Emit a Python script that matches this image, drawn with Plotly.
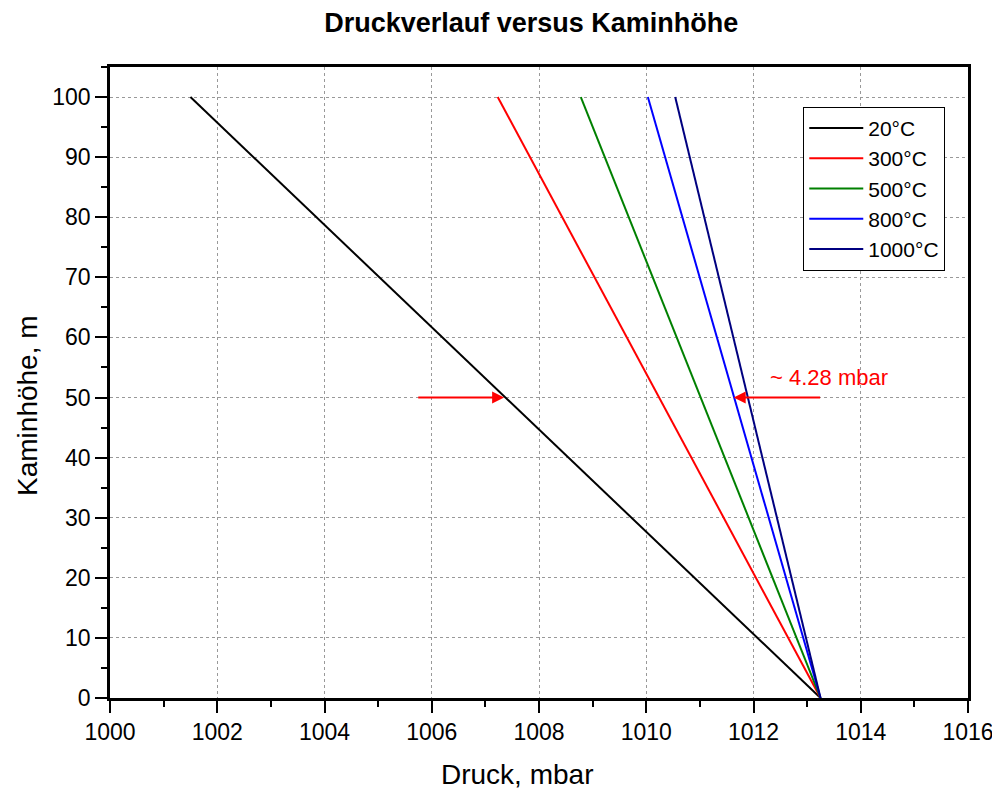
import plotly.graph_objects as go

# Data
heights = [0, 100]  # m
series_names = ["20°C", "300°C", "500°C", "800°C", "1000°C"]
p_bottom = 1013.25  # mbar at 0 m
p_top = [1001.5, 1007.23, 1008.78, 1010.03, 1010.54]  # mbar at 100 m
colors = ["#000000", "#ff0000", "#008000", "#0000ff", "#000080"]

# annotation arrows at 50 m
arrow_y = 50
left_arrow = (1005.72, 1007.35)   # tail, tip
right_arrow = (1013.27, 1011.63)  # tail, tip
label_text = "~ 4.28 mbar"
label_pos = (1013.4, 53.4)

x_title = "Druck, mbar"
y_title = "Kaminhöhe, m"
chart_title = "Druckverlauf versus Kaminhöhe"

fig = go.Figure()
for name, pt, c in zip(series_names, p_top, colors):
    fig.add_trace(go.Scatter(
        x=[p_bottom, pt], y=heights, mode="lines", name=name,
        line=dict(color=c, width=2)))

for tail, tip in [left_arrow, right_arrow]:
    fig.add_annotation(x=tip, y=arrow_y, ax=tail, ay=arrow_y,
                       xref="x", yref="y", axref="x", ayref="y",
                       showarrow=True, arrowhead=2, arrowsize=1.2,
                       arrowwidth=2, arrowcolor="#ff0000", text="")
fig.add_annotation(x=label_pos[0], y=label_pos[1], text=label_text,
                   showarrow=False, xref="x", yref="y",
                   font=dict(color="#ff0000", size=22))

# axis titles as annotations for exact placement
fig.add_annotation(text=x_title, xref="paper", yref="paper",
                   x=0.474, y=-0.122, xanchor="center", yanchor="middle",
                   showarrow=False, font=dict(size=28, color="black"))
fig.add_annotation(text=y_title, xref="paper", yref="paper", textangle=-90,
                   x=-0.097, y=0.464, xanchor="center", yanchor="middle",
                   showarrow=False, font=dict(size=28, color="black"))

axis_common = dict(
    showline=True, linewidth=2.5, linecolor="black", mirror=True,
    ticks="outside", ticklen=12, tickwidth=2, tickcolor="black",
    showgrid=True, gridcolor="#999999", griddash="dot", gridwidth=1,
    zeroline=False, tickfont=dict(size=23, color="black"),
    automargin=False,
)
minor_common = dict(ticklen=6, tickwidth=2, tickcolor="black", ticks="outside", showgrid=False)
fig.update_xaxes(range=[1000, 1016], dtick=2, tick0=1000,
                 minor=dict(dtick=1, **minor_common), **axis_common)
fig.update_yaxes(range=[0, 105], dtick=10, tick0=0,
                 minor=dict(dtick=5, **minor_common), **axis_common)

fig.update_layout(
    width=992, height=783,
    margin=dict(l=102, r=32, t=59, b=93),
    paper_bgcolor="white", plot_bgcolor="white",
    font=dict(family="Liberation Sans, Arial, sans-serif", color="black"),
    title=dict(text="<b>" + chart_title + "</b>", x=0.491, xanchor="center",
               xref="paper",
               y=0.982, yanchor="middle", font=dict(size=27, color="black")),
    legend=dict(x=0.808, y=0.937, xanchor="left", yanchor="top",
                bordercolor="black", borderwidth=1, bgcolor="white",
                font=dict(size=21, color="black"), itemwidth=54,
                tracegroupgap=0),
    showlegend=True,
)

fig.write_html("out.html")
